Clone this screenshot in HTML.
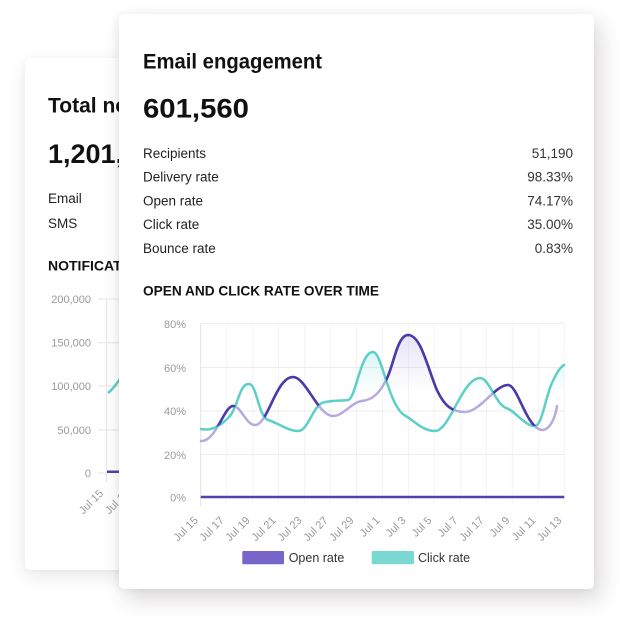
<!DOCTYPE html>
<html><head><meta charset="utf-8"><style>
html,body{margin:0;padding:0;background:#fff;}
body{width:620px;height:620px;position:relative;overflow:hidden;font-family:"Liberation Sans",sans-serif;}
.card{position:absolute;background:#fff;border-radius:5px;}
#back{left:25px;top:58px;width:260px;height:512px;box-shadow:0 6px 18px rgba(60,50,40,0.11),0 1px 4px rgba(0,0,0,0.04);z-index:1;}
#front{left:119px;top:14px;width:475px;height:575px;box-shadow:6px 10px 22px rgba(60,50,40,0.19),-2px 0 8px rgba(0,0,0,0.05);z-index:3;}
svg.layer{position:absolute;left:0;top:0;}
#backsvg{z-index:2;}
#frontsvg{z-index:4;}
</style></head><body>
<div class="card" id="back"></div>
<svg class="layer" id="backsvg" width="620" height="620" viewBox="0 0 620 620" font-family="Liberation Sans, sans-serif">
  <text x="48" y="112.7" font-size="21" font-weight="bold" fill="#111">Total notifications</text>
  <text x="48" y="163" font-size="27" font-weight="bold" fill="#111">1,201,120</text>
  <text x="48" y="203" font-size="13.5" fill="#222">Email</text>
  <text x="48" y="228" font-size="13.5" fill="#222">SMS</text>
  <text x="48" y="270.7" font-size="14" font-weight="bold" fill="#111">NOTIFICATIONS OVER TIME</text>
  <g font-size="11" fill="#9a9a9a" text-anchor="end">
    <text x="91" y="303">200,000</text>
    <text x="91" y="346.7">150,000</text>
    <text x="91" y="390">100,000</text>
    <text x="91" y="434">50,000</text>
    <text x="91" y="477">0</text>
  </g>
  <g stroke="#e6e6e6" stroke-width="1">
    <line x1="98" y1="299" x2="200" y2="299"/>
    <line x1="98" y1="342.7" x2="200" y2="342.7"/>
    <line x1="98" y1="386" x2="200" y2="386"/>
    <line x1="98" y1="430" x2="200" y2="430"/>
    <line x1="98" y1="473" x2="107" y2="473"/>
    <line x1="106.7" y1="299" x2="106.7" y2="483"/>
  </g>
  <path d="M108,393 C112,390 116,385 122,376" fill="none" stroke="#5ccfc8" stroke-width="2.5"/>
  <line x1="107" y1="471.7" x2="130" y2="471.7" stroke="#5141b0" stroke-width="2.5"/>
  <g font-size="11" fill="#9a9a9a" text-anchor="end">
    <text x="104" y="494" transform="rotate(-45 104 494)">Jul 15</text>
    <text x="130" y="494" transform="rotate(-45 130 494)">Jul 17</text>
  </g>
</svg>
<div class="card" id="front"></div>
<svg class="layer" id="frontsvg" width="620" height="620" viewBox="0 0 620 620" font-family="Liberation Sans, sans-serif">
  <defs>
    <clipPath id="aboveTeal">
      <path d="M201,429 C210,431 219,427 227,419 C234,414 237,400 241,391 C244,385 246,384 249,384 C257,384 258,416 268,420 C276,422 288,431 298,431 C308,431 312,408 322,403 C328,400.5 340,401 348,400 C356,399 360,352 373,352 C382,352 388,404 404,415 C414,420 422,431 435,431 C450,431 462,378 480,378 C489,378 495,403 506,408 C516,411 524,426 535,426 C542,426 546,395 552,383 C556,374 560,367 564,365 L570,365 L570,290 L195,290 L195,429 Z"/>
    </clipPath>
    <clipPath id="aboveOpen">
      <path d="M201,441 C216,442 224,406 233,406 C241,406 246,425 255,425 C268,425 276,377 293,377 C306,377 318,416 333,416 C343,416 352,402 362,401 C372,400 380,394 388,376 C394,362 398,335 408,335 C420,335 426,362 436,388 C444,406 452,412 465,412 C480,412 495,385 508,385 C518,385 526,428 542,430 C549,430 555,420 557,406 L570,406 L570,290 L195,290 L195,441 Z"/>
    </clipPath>
    <linearGradient id="gP" x1="0" y1="330" x2="0" y2="392" gradientUnits="userSpaceOnUse">
      <stop offset="0" stop-color="#9c8fdc" stop-opacity="0.26"/>
      <stop offset="1" stop-color="#9c8fdc" stop-opacity="0"/>
    </linearGradient>
    <linearGradient id="gT" x1="0" y1="345" x2="0" y2="395" gradientUnits="userSpaceOnUse">
      <stop offset="0" stop-color="#7fded8" stop-opacity="0.32"/>
      <stop offset="1" stop-color="#7fded8" stop-opacity="0"/>
    </linearGradient>
  </defs>

  <text x="143" y="68.3" font-size="21" font-weight="bold" fill="#111" textLength="179" lengthAdjust="spacingAndGlyphs">Email engagement</text>
  <text x="143" y="117.3" font-size="27" font-weight="bold" fill="#111" textLength="106" lengthAdjust="spacingAndGlyphs">601,560</text>

  <g font-size="13.5" fill="#222">
    <text x="143" y="158">Recipients</text>
    <text x="143" y="181.7">Delivery rate</text>
    <text x="143" y="205.4">Open rate</text>
    <text x="143" y="229.1">Click rate</text>
    <text x="143" y="252.8">Bounce rate</text>
  </g>
  <g font-size="13.5" fill="#333" text-anchor="end">
    <text x="573" y="158">51,190</text>
    <text x="573" y="181.7">98.33%</text>
    <text x="573" y="205.4">74.17%</text>
    <text x="573" y="229.1">35.00%</text>
    <text x="573" y="252.8">0.83%</text>
  </g>

  <text x="143" y="295.3" font-size="14" font-weight="bold" fill="#111" textLength="236" lengthAdjust="spacingAndGlyphs">OPEN AND CLICK RATE OVER TIME</text>

  <!-- y labels -->
  <g font-size="11" fill="#9a9a9a" text-anchor="end">
    <text x="186" y="328">80%</text>
    <text x="186" y="372">60%</text>
    <text x="186" y="415">40%</text>
    <text x="186" y="459">20%</text>
    <text x="186" y="501.5">0%</text>
  </g>

  <!-- vertical grid -->
  <g stroke="#f4f4f6" stroke-width="1">
    <line x1="226.7" y1="323.5" x2="226.7" y2="505"/>
    <line x1="252.6" y1="323.5" x2="252.6" y2="505"/>
    <line x1="278.6" y1="323.5" x2="278.6" y2="505"/>
    <line x1="304.6" y1="323.5" x2="304.6" y2="505"/>
    <line x1="330.6" y1="323.5" x2="330.6" y2="505"/>
    <line x1="356.5" y1="323.5" x2="356.5" y2="505"/>
    <line x1="382.5" y1="323.5" x2="382.5" y2="505"/>
    <line x1="408.5" y1="323.5" x2="408.5" y2="505"/>
    <line x1="434.4" y1="323.5" x2="434.4" y2="505"/>
    <line x1="460.4" y1="323.5" x2="460.4" y2="505"/>
    <line x1="486.4" y1="323.5" x2="486.4" y2="505"/>
    <line x1="512.3" y1="323.5" x2="512.3" y2="505"/>
    <line x1="538.3" y1="323.5" x2="538.3" y2="505"/>
    <line x1="564.3" y1="323.5" x2="564.3" y2="505"/>
  </g>
  <!-- horizontal grid -->
  <g stroke="#ececee" stroke-width="1">
    <line x1="200.7" y1="323.5" x2="564.3" y2="323.5"/>
    <line x1="200.7" y1="367.5" x2="564.3" y2="367.5"/>
    <line x1="200.7" y1="411" x2="564.3" y2="411"/>
    <line x1="200.7" y1="454.5" x2="564.3" y2="454.5"/>
  </g>
  <line x1="200.7" y1="323.5" x2="200.7" y2="506" stroke="#e2e2e4" stroke-width="1"/>

  <!-- fills between curves -->
  <path clip-path="url(#aboveTeal)" fill="url(#gP)" d="M201,441 C216,442 224,406 233,406 C241,406 246,425 255,425 C268,425 276,377 293,377 C306,377 318,416 333,416 C343,416 352,402 362,401 C372,400 380,394 388,376 C394,362 398,335 408,335 C420,335 426,362 436,388 C444,406 452,412 465,412 C480,412 495,385 508,385 C518,385 526,428 542,430 C549,430 555,420 557,406 L557,497 L201,497 Z"/>
  <path clip-path="url(#aboveOpen)" fill="url(#gT)" d="M201,429 C210,431 219,427 227,419 C234,414 237,400 241,391 C244,385 246,384 249,384 C257,384 258,416 268,420 C276,422 288,431 298,431 C308,431 312,408 322,403 C328,400.5 340,401 348,400 C356,399 360,352 373,352 C382,352 388,404 404,415 C414,420 422,431 435,431 C450,431 462,378 480,378 C489,378 495,403 506,408 C516,411 524,426 535,426 C542,426 546,395 552,383 C556,374 560,367 564,365 L564,497 L201,497 Z"/>

  <!-- open rate light -->
  <path fill="none" stroke="#b7aade" stroke-width="2.5" stroke-linecap="round" d="M201,441 C216,442 224,406 233,406 C241,406 246,425 255,425 C268,425 276,377 293,377 C306,377 318,416 333,416 C343,416 352,402 362,401 C372,400 380,394 388,376 C394,362 398,335 408,335 C420,335 426,362 436,388 C444,406 452,412 465,412 C480,412 495,385 508,385 C518,385 526,428 542,430 C549,430 555,420 557,406"/>
  <!-- click rate -->
  <path fill="none" stroke="#5ccfc8" stroke-width="2.5" stroke-linecap="round" d="M201,429 C210,431 219,427 227,419 C234,414 237,400 241,391 C244,385 246,384 249,384 C257,384 258,416 268,420 C276,422 288,431 298,431 C308,431 312,408 322,403 C328,400.5 340,401 348,400 C356,399 360,352 373,352 C382,352 388,404 404,415 C414,420 422,431 435,431 C450,431 462,378 480,378 C489,378 495,403 506,408 C516,411 524,426 535,426 C542,426 546,395 552,383 C556,374 560,367 564,365"/>
  <!-- open rate dark (above click) -->
  <path clip-path="url(#aboveTeal)" fill="none" stroke="#4b3aa8" stroke-width="2.6" stroke-linecap="round" d="M201,441 C216,442 224,406 233,406 C241,406 246,425 255,425 C268,425 276,377 293,377 C306,377 318,416 333,416 C343,416 352,402 362,401 C372,400 380,394 388,376 C394,362 398,335 408,335 C420,335 426,362 436,388 C444,406 452,412 465,412 C480,412 495,385 508,385 C518,385 526,428 542,430 C549,430 555,420 557,406"/>

  <!-- zero line -->
  <line x1="200.7" y1="497" x2="564.3" y2="497" stroke="#5141b0" stroke-width="2.5"/>

  <!-- x labels -->
  <g font-size="11" fill="#9a9a9a" text-anchor="end">
    <text x="198.7" y="521" transform="rotate(-45 198.7 521)">Jul 15</text>
    <text x="224.7" y="521" transform="rotate(-45 224.7 521)">Jul 17</text>
    <text x="250.6" y="521" transform="rotate(-45 250.6 521)">Jul 19</text>
    <text x="276.6" y="521" transform="rotate(-45 276.6 521)">Jul 21</text>
    <text x="302.6" y="521" transform="rotate(-45 302.6 521)">Jul 23</text>
    <text x="328.6" y="521" transform="rotate(-45 328.6 521)">Jul 27</text>
    <text x="354.5" y="521" transform="rotate(-45 354.5 521)">Jul 29</text>
    <text x="380.5" y="521" transform="rotate(-45 380.5 521)">Jul 1</text>
    <text x="406.5" y="521" transform="rotate(-45 406.5 521)">Jul 3</text>
    <text x="432.4" y="521" transform="rotate(-45 432.4 521)">Jul 5</text>
    <text x="458.4" y="521" transform="rotate(-45 458.4 521)">Jul 7</text>
    <text x="484.4" y="521" transform="rotate(-45 484.4 521)">Jul 17</text>
    <text x="510.3" y="521" transform="rotate(-45 510.3 521)">Jul 9</text>
    <text x="536.3" y="521" transform="rotate(-45 536.3 521)">Jul 11</text>
    <text x="562.3" y="521" transform="rotate(-45 562.3 521)">Jul 13</text>
  </g>

  <!-- legend -->
  <rect x="242.3" y="551" width="41.7" height="13.3" rx="1" fill="#7865c9"/>
  <text x="288.7" y="562" font-size="12.5" fill="#333">Open rate</text>
  <rect x="371.7" y="551" width="42.3" height="13.3" rx="1" fill="#7ad8d3"/>
  <text x="418" y="562" font-size="12.5" fill="#333">Click rate</text>
</svg>
</body></html>
